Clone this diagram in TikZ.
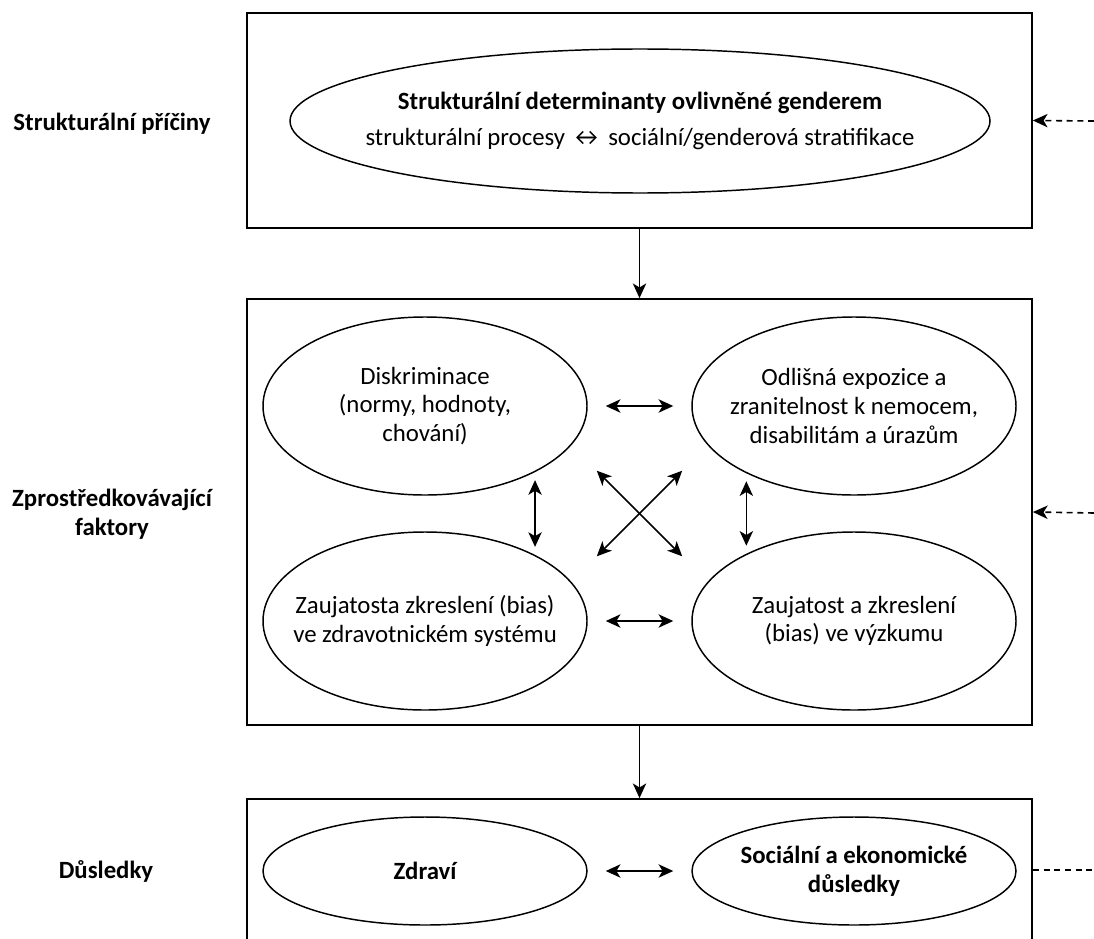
\documentclass[tikz,border=0pt]{standalone}
\usepackage{fontspec}
\setmainfont{Carlito}
\usetikzlibrary{arrows.meta,shapes.geometric}

\begin{document}
\begin{tikzpicture}[x=0.75pt,y=-0.75pt,
                    font=\fontsize{18.6}{21.4}\selectfont,
                    panel/.style={draw,line width=1.3pt,minimum width=588.75pt,inner sep=0pt},
                    oval/.style={draw,ellipse,line width=1.1pt,inner xsep=-30pt,inner ysep=0pt,align=center},
                    flow/.style={-{Stealth[length=11pt,width=10pt,inset=3pt]},line width=1.2pt},
                    biarr/.style={{Stealth[length=11pt,width=10pt,inset=3pt]}-{Stealth[length=11pt,width=10pt,inset=3pt]},line width=1.2pt},
                    extlink/.style={dashed,dash pattern=on 4.5pt off 3.5pt,line width=1.1pt},
                    rowlabel/.style={font=\fontsize{18.6}{21.4}\selectfont\bfseries,align=center}]

                    \useasboundingbox (0,0) rectangle (1094,938);
                    \clip (0,0) rectangle (1094,938);

                    % layers
                    \node[panel,minimum height=161.25pt] (topbox) at (639.5,120.5) {};
                    \node[panel,minimum height=319.5pt] (midbox) at (639.5,512) {};
                    \node[panel,minimum height=106.5pt] (botbox) at (639.5,870) {};

                    \node[rowlabel] (lab1) at (112,124) {Strukturální příčiny};
                    \node[rowlabel] (lab2) at (112,514) {Zprostředkovávající\\faktory};
                    \node[rowlabel] (lab3) at (106,871) {Důsledky};

                    \node[oval,minimum width=525pt,minimum height=108pt] (determ) at (640,121)
                        {\textbf{Strukturální determinanty ovlivněné genderem}\\[5pt]
                         strukturální procesy ↔ sociální/genderová stratifikace};

                    \node[oval,minimum width=243pt,minimum height=133.5pt] (disk) at (425,406) {Diskriminace\\(normy, hodnoty,\\chování)};
                    \node[oval,minimum width=243pt,minimum height=133.5pt] (expo) at (854,406) {Odlišná expozice a\\zranitelnost k nemocem,\\disabilitám a úrazům};
                    \node[oval,minimum width=243pt,minimum height=133.5pt] (bias) at (425,621) {Zaujatosta zkreslení (bias)\\ve zdravotnickém systému};
                    \node[oval,minimum width=243pt,minimum height=133.5pt] (vyzk) at (854,621) {Zaujatost a zkreslení\\(bias) ve výzkumu};

                    \node[oval,minimum width=243pt,minimum height=81pt,font=\fontsize{18.6}{21.4}\selectfont\bfseries] (zdravi) at (425,871) {Zdraví};
                    \node[oval,minimum width=243pt,minimum height=81pt,font=\fontsize{18.6}{21.4}\selectfont\bfseries] (socek) at (854,871) {Sociální a ekonomické\\důsledky};

                    \draw[flow] (topbox) -- (midbox);
                    \draw[flow] (midbox) -- (botbox);

                    \draw[biarr,shorten <=13.5pt,shorten >=13.5pt] (disk) -- (expo);
                    \draw[biarr,shorten <=13.5pt,shorten >=13.5pt] (bias) -- (vyzk);
                    \draw[biarr,shorten <=6pt,shorten >=6pt] (disk.-31) -- (bias.31);
                    \draw[biarr,shorten <=6pt,shorten >=6pt] (expo.212) -- (vyzk.148);
                    \draw[biarr,shorten <=27pt,shorten >=27pt] (disk.-15) -- (vyzk.165);
                    \draw[biarr,shorten <=27pt,shorten >=27pt] (bias.15) -- (expo.195);
                    \draw[biarr,shorten <=13.5pt,shorten >=13.5pt] (zdravi) -- (socek);

                    % outer influences
                    \coordinate (in1) at (1094,121);
                    \coordinate (in2) at (1094,513);
                    \coordinate (out3) at (1094,870);
                    \draw[extlink,flow] (in1) -- (topbox.east);
                    \draw[extlink,flow] (in2) -- (midbox.east);
                    \draw[extlink] (botbox.east) -- (out3);
                \end{tikzpicture}
\end{document}
